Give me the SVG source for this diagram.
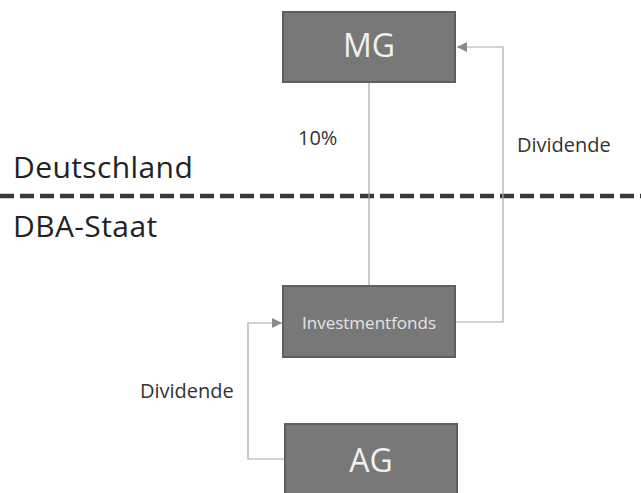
<svg xmlns="http://www.w3.org/2000/svg" width="641" height="493" viewBox="0 0 641 493">
<style>
.box{fill:#787878;stroke:#5f5f5f;stroke-width:2}
.big{font-family:"Open Sans","Noto Sans",sans-serif;font-size:32px;fill:#f0f0f0;text-anchor:middle}
.mid{font-family:"Open Sans","Noto Sans",sans-serif;font-size:17px;fill:#e4e4e4;text-anchor:middle}
.lbl{font-family:"Open Sans","Noto Sans",sans-serif;font-size:20px;fill:#333}
.region{font-family:"Open Sans","Noto Sans",sans-serif;font-size:30px;letter-spacing:0.4px;fill:#222}
.conn{fill:none;stroke:#a8a8a8;stroke-width:1.2}
</style>
<defs>
<marker id="arr" viewBox="0 0 10 10" refX="10" refY="5" markerWidth="10" markerHeight="10" markerUnits="userSpaceOnUse" orient="auto">
<path d="M0,0 L10,5 L0,10 z" fill="#8a8a8a"/>
</marker>
</defs>
<rect width="641" height="493" fill="#ffffff"/>
<g id="regions">
<text class="region" x="13" y="178">Deutschland</text>
<text class="region" x="13" y="237">DBA-Staat</text>
<line x1="0" y1="196" x2="641" y2="196" stroke="#3a3a3a" stroke-width="4.5" stroke-dasharray="14,6"/>
</g>
<g id="connectors">
<line class="conn" x1="369" y1="82" x2="369" y2="286" stroke="#d0d0d0"/>
<polyline class="conn" points="455,322 503,322 503,47 457,47" marker-end="url(#arr)"/>
<polyline class="conn" points="284,459 248,459 248,323 282,323" marker-end="url(#arr)"/>
<text class="lbl" x="298" y="145">10%</text>
<text class="lbl" x="517" y="152">Dividende</text>
<text class="lbl" x="140" y="398">Dividende</text>
</g>
<g id="MG">
<rect class="box" x="283" y="12" width="172" height="70"/>
<text class="big" x="369" y="57">MG</text>
</g>
<g id="Investmentfonds">
<rect class="box" x="283" y="286" width="172" height="71"/>
<text class="mid" x="369" y="329">Investmentfonds</text>
</g>
<g id="AG">
<rect class="box" x="285" y="424" width="172" height="72"/>
<text class="big" x="371" y="472">AG</text>
</g>
</svg>
